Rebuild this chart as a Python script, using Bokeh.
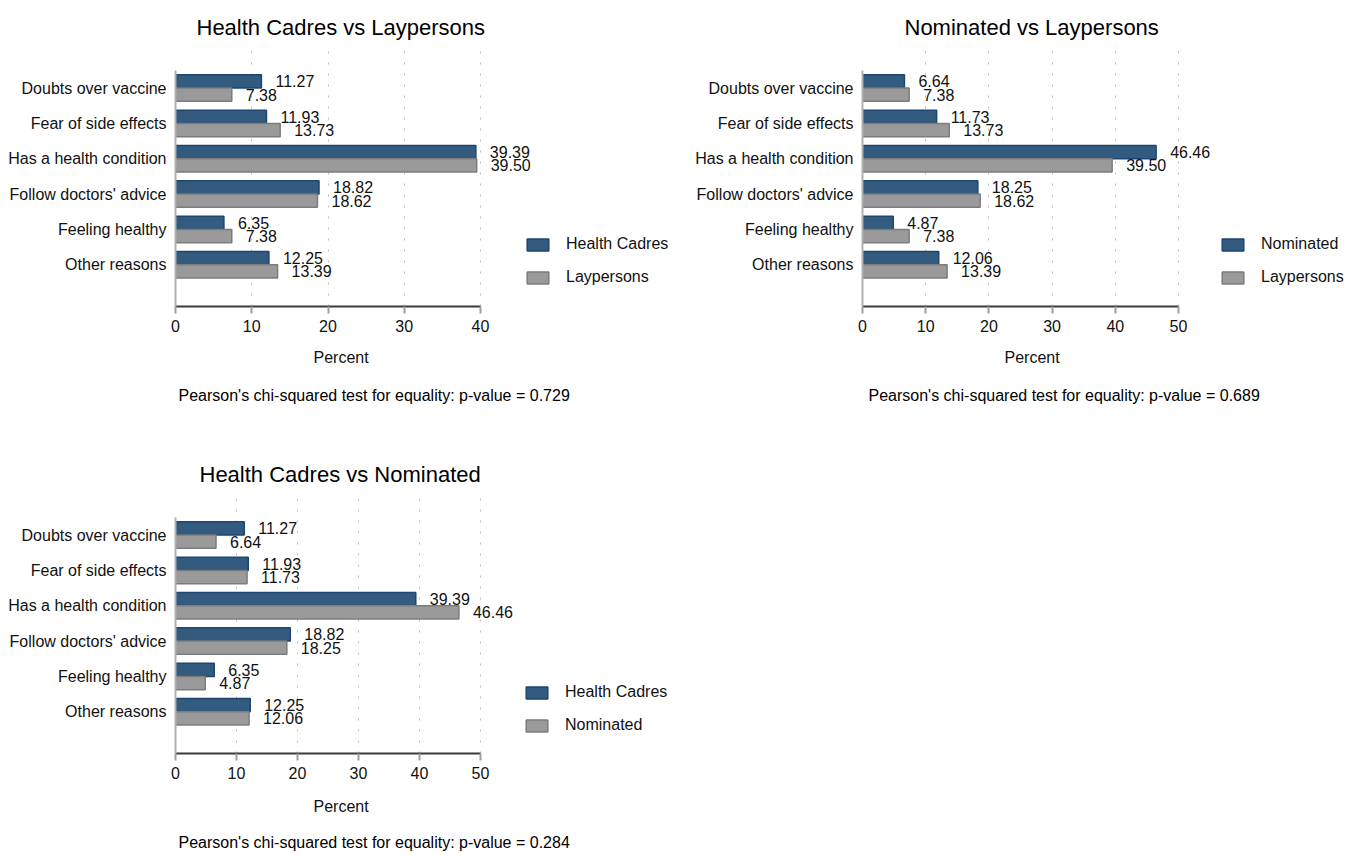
from bokeh.plotting import figure
from bokeh.models import (ColumnDataSource, FixedTicker, Legend, LegendItem, Title, Range1d)
from bokeh.layouts import row, column
from bokeh.embed import file_html
from bokeh.resources import INLINE
from bokeh.core.properties import value

categories = ["Doubts over vaccine", "Fear of side effects", "Has a health condition",
              "Follow doctors' advice", "Feeling healthy", "Other reasons"]
health_cadres = [11.27, 11.93, 39.39, 18.82, 6.35, 12.25]
laypersons = [7.38, 13.73, 39.50, 18.62, 7.38, 13.39]
nominated = [6.64, 11.73, 46.46, 18.25, 4.87, 12.06]

panels = [
    ("Health Cadres vs Laypersons", "Health Cadres", health_cadres, "Laypersons", laypersons, 40, "0.729"),
    ("Nominated vs Laypersons", "Nominated", nominated, "Laypersons", laypersons, 50, "0.689"),
    ("Health Cadres vs Nominated", "Health Cadres", health_cadres, "Nominated", nominated, 50, "0.284"),
]

FONT = "Liberation Sans"
BLUE_FILL, BLUE_LINE = "#335b80", "#1d4670"
GRAY_FILL, GRAY_LINE = "#9a9a9a", "#7c7c7c"
TXT = "#111111"


def make_panel(spec, width, height, mb_left, mb_top, mb_bottom, axis_px,
               title_off, pct_off, note_off, leg_x, leg_y, s_pct, s_note):
    title, n1, v1, n2, v2, xmax, pval = spec
    n = len(categories)
    centers = [n - 1 - i for i in range(n)]
    frame_w = width - mb_left
    x_end = xmax * frame_w / axis_px
    p = figure(width=width, height=height, output_backend="svg", toolbar_location=None,
               x_range=Range1d(0, x_end), y_range=Range1d(-1.18, n - 1 + 1.09),
               min_border_left=mb_left, min_border_right=0,
               min_border_top=mb_top, min_border_bottom=mb_bottom,
               outline_line_color=None)
    t = Title(text=title, align="left", offset=title_off, text_font=FONT,
              text_font_size="22px", text_font_style="normal", text_color="#000000", standoff=19)
    p.add_layout(t, "above")

    src1 = ColumnDataSource(dict(y=[c + 0.1875 for c in centers], v=v1, lab=["%.2f" % x for x in v1]))
    src2 = ColumnDataSource(dict(y=[c - 0.1875 for c in centers], v=v2, lab=["%.2f" % x for x in v2]))
    r1 = p.hbar(y="y", right="v", left=0, height=0.375, source=src1,
                fill_color=BLUE_FILL, line_color=BLUE_LINE, line_width=1.5)
    r2 = p.hbar(y="y", right="v", left=0, height=0.375, source=src2,
                fill_color=GRAY_FILL, line_color=GRAY_LINE, line_width=1.5)
    for s in (src1, src2):
        p.text(x="v", y="y", text="lab", source=s, x_offset=14, text_align="left",
               text_baseline="middle", text_font=value(FONT), text_font_size="16px",
               text_color=TXT)

    # x axis
    p.xaxis.ticker = FixedTicker(ticks=list(range(0, xmax + 1, 10)))
    p.xaxis.bounds = (0, xmax)
    p.xaxis.major_label_text_font = FONT
    p.xaxis.major_label_text_font_size = "16px"
    p.xaxis.major_label_text_color = TXT
    p.xaxis.major_label_standoff = 6
    p.xaxis.axis_line_color = "#3a3a3a"
    p.xaxis.axis_line_width = 2
    p.xaxis.major_tick_line_color = "#a0a0a0"
    p.xaxis.major_tick_line_width = 2
    p.xaxis.major_tick_out = 7
    p.xaxis.major_tick_in = 0
    p.xaxis.minor_tick_line_color = None

    # y axis
    p.yaxis.ticker = FixedTicker(ticks=centers)
    p.yaxis.bounds = (-1.18, n - 1 + 0.5)
    p.yaxis.major_label_overrides = {c: categories[i] for i, c in enumerate(centers)}
    p.yaxis.major_label_text_font = FONT
    p.yaxis.major_label_text_font_size = "16px"
    p.yaxis.major_label_text_color = TXT
    p.yaxis.major_label_standoff = 9
    p.yaxis.major_tick_line_color = None
    p.yaxis.major_tick_out = 0
    p.yaxis.major_tick_in = 0
    p.yaxis.minor_tick_line_color = None
    p.yaxis.minor_tick_out = 0
    p.yaxis.axis_line_color = "#b0b0b0"
    p.yaxis.axis_line_width = 2

    p.ygrid.grid_line_color = None
    p.xgrid.grid_line_color = "#bdbdbd"
    p.xgrid.grid_line_dash = "2 9"
    p.xgrid.grid_line_width = 1

    pct = Title(text="Percent", align="left", offset=pct_off, text_font=FONT,
                text_font_size="16px", text_font_style="normal", text_color=TXT, standoff=s_pct)
    p.add_layout(pct, "below")
    note = Title(text="Pearson's chi-squared test for equality: p-value = " + pval,
                 align="left", offset=note_off, text_font=FONT, text_font_size="16px",
                 text_font_style="normal", text_color="#000000", standoff=s_note)
    p.add_layout(note, "below")

    leg = Legend(items=[LegendItem(label=n1, renderers=[r1]), LegendItem(label=n2, renderers=[r2])],
                 location=(leg_x, leg_y), orientation="vertical",
                 border_line_alpha=0, background_fill_alpha=0, padding=0, margin=0,
                 glyph_width=27, glyph_height=15, label_standoff=15, spacing=15,
                 label_height=17, label_text_font=FONT, label_text_font_size="16px",
                 label_text_color=TXT, label_text_baseline="middle")
    p.add_layout(leg, "center")
    return p


p1 = make_panel(panels[0], 680, 448, 175, 49, 142, 305, 21, 138, 3, 349, 20, 24, 14)
p2 = make_panel(panels[1], 681, 448, 182, 49, 142, 316, 42, 142, 6, 357, 20, 24, 14)
p3 = make_panel(panels[2], 680, 407, 175, 48, 102, 305, 24, 138, 3, 348, 19, 28, 6)

layout = column(row(p1, p2), p3)
open("out.html", "w").write(file_html(layout, INLINE))
